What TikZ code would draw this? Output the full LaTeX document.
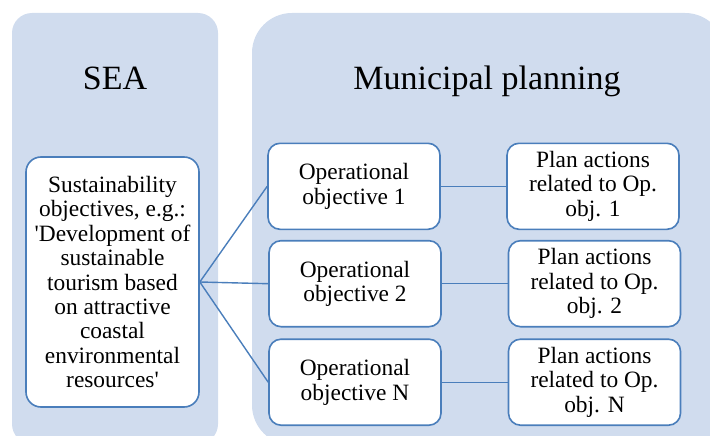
\documentclass[tikz,border=0pt]{standalone}
\usepackage{fontspec}
\setmainfont{Liberation Serif}
\definecolor{panel}{RGB}{208,220,238}
\definecolor{edge}{RGB}{74,126,187}
\begin{document}
\begin{tikzpicture}[x=1pt,y=-1pt,
  panelbox/.style={fill=panel,draw=none},
  itembox/.style={draw=edge,line width=1.6pt,fill=white,rounded corners=12pt,
    minimum width=172pt,minimum height=86pt,align=center,inner sep=2pt,
    font=\fontsize{23.4}{24.4}\selectfont},
  title/.style={anchor=base,font=\fontsize{34}{38}\selectfont},
  link/.style={draw=edge,line width=1.4pt}]
\useasboundingbox (0,0) rectangle (710,436);
\begin{scope}
\clip (0,0) rectangle (710,436);
\fill[panel,rounded corners=20pt] (12,13) rectangle (218,444);
\fill[panel,rounded corners=40pt] (252,13) rectangle (725,445);
\end{scope}
\node[title] (sea) at (115,90) {SEA};
\node[title] (mun) at (487,89) {Municipal planning};
\node[itembox,minimum width=173pt,minimum height=250pt,rounded corners=15pt] (obj) at (112.5,282)
  {Sustainability\\objectives, e.g.:\\\textquotesingle Development of\\sustainable\\tourism based\\on attractive\\coastal\\environmental\\resources\textquotesingle};
\node[itembox] (op1) at (354,186.3) {Operational\\objective 1};
\node[itembox] (op2) at (355,283.7) {Operational\\objective 2};
\node[itembox] (opn) at (355,382.2) {Operational\\objective N};
\node[itembox] (pa1) at (593,186.3) {Plan actions\\related to Op.\\obj. 1};
\node[itembox] (pa2) at (594.5,283.7) {Plan actions\\related to Op.\\obj. 2};
\node[itembox] (pan) at (594.5,382.2) {Plan actions\\related to Op.\\obj. N};
\draw[link] (obj.east) -- (op1.west);
\draw[link] (obj.east) -- (op2.west);
\draw[link] (obj.east) -- (opn.west);
\draw[link] (op1.east) -- (pa1.west);
\draw[link] (op2.east) -- (pa2.west);
\draw[link] (opn.east) -- (pan.west);
\end{tikzpicture}
\end{document}
